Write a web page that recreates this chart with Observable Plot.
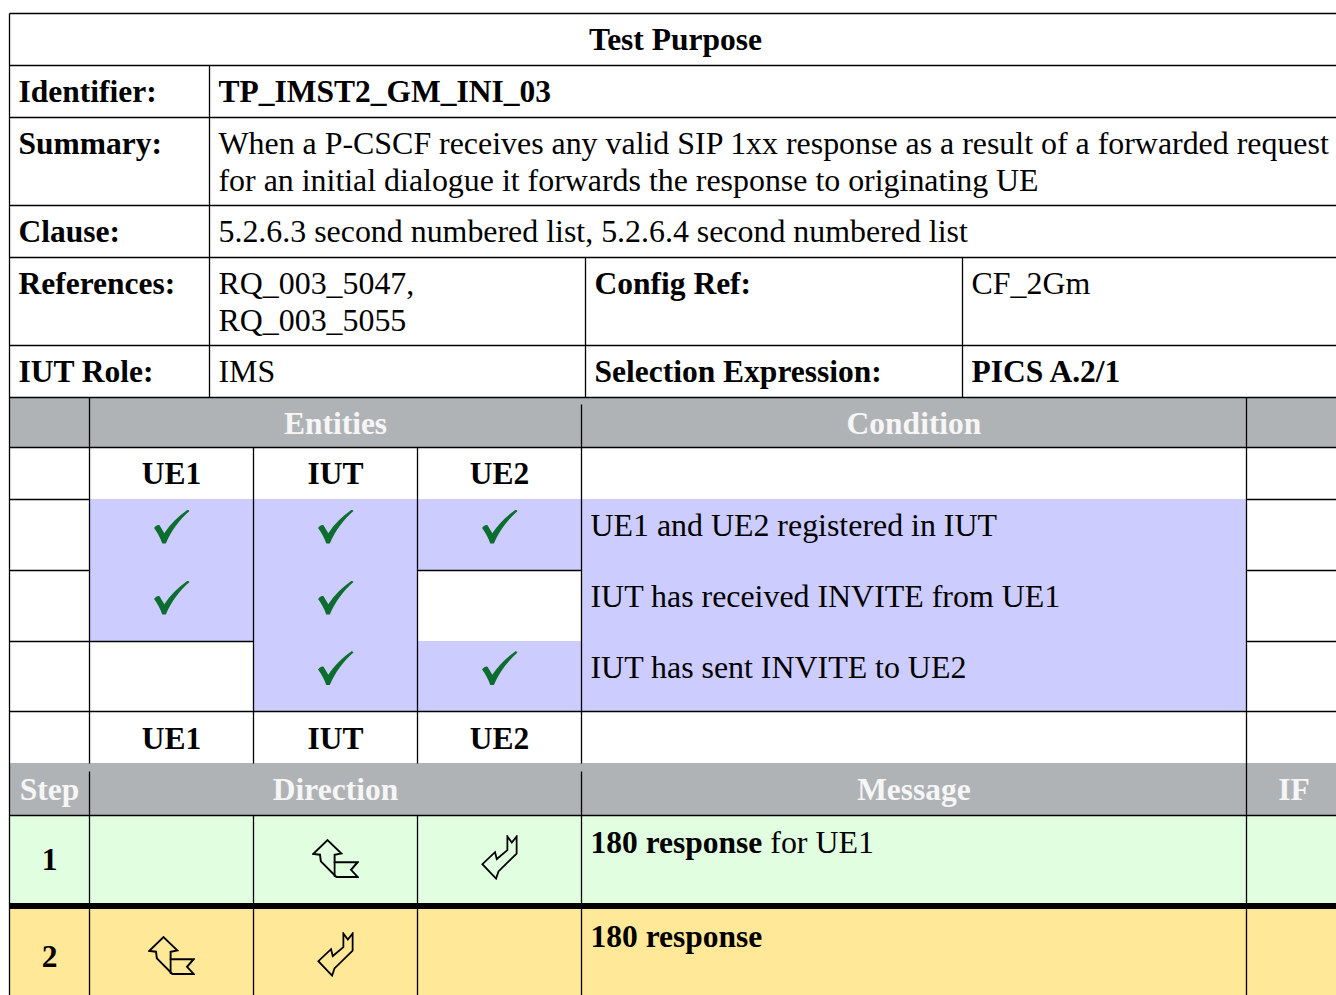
<!DOCTYPE html>
<html><head><meta charset="utf-8">
<script src="https://cdn.jsdelivr.net/npm/d3@7"></script>
<script src="https://cdn.jsdelivr.net/npm/@observablehq/plot@0.6"></script>
<style>html,body{margin:0;padding:0;background:#fff;overflow:hidden;}</style>
</head><body><div id="chart"></div>
<script>
// ---------------- data ----------------
const title = "Test Purpose";
const infoLabels = ["Identifier:", "Summary:", "Clause:", "References:", "IUT Role:"];
const infoValues = [
  ["TP_IMST2_GM_INI_03"],
  ["When a P-CSCF receives any valid SIP 1xx response as a result of a forwarded request",
   "for an initial dialogue it forwards the response to originating UE"],
  ["5.2.6.3 second numbered list, 5.2.6.4 second numbered list"],
  ["RQ_003_5047,", "RQ_003_5055"],
  ["IMS"]
];
const infoValueBold = [true, false, false, false, false];
const extraLabels = ["Config Ref:", "Selection Expression:"];
const extraValues = ["CF_2Gm", "PICS A.2/1"];
const extraValueBold = [false, true];
const entityHeader = ["", "Entities", "Condition", ""];
const entities = ["UE1", "IUT", "UE2"];
const conditions = ["UE1 and UE2 registered in IUT", "IUT has received INVITE from UE1", "IUT has sent INVITE to UE2"];
const conditionChecks = [[1, 1, 1], [1, 1, 0], [0, 1, 1]];
const stepHeader = ["Step", "Direction", "Message", "IF"];
const steps = ["1", "2"];
const stepArrows = [["", "up", "down"], ["up", "down", ""]];
const messageBold = ["180 response", "180 response"];
const messageRest = [" for UE1", ""];

// ---------------- layout & style ----------------
const W = 1336, H = 995;
const topCols = [9, 209, 585, 962, 1341];
const topRows = [13, 65, 117, 205, 257, 345, 397];
const cols = [9, 89, 253, 417, 581, 1246, 1341];
const rows = [397, 447, 499, 570, 641, 711, 763, 815, 903, 909, 1003];
const PAD = 9, BASE = 36.5, LINE = 36.5;
const FONT = "'Liberation Serif', 'Times New Roman', serif";
const FS_BOLD = 31.5, FS_REG = 31.9;
const GRAY = "#b0b3b6", LAV = "#ccccff", GREEN = "#e1fee1", YELLOW = "#ffe897", HEAD = "#f6f6f6";

const svgURI = s => "data:image/svg+xml;utf8," + encodeURIComponent(s);
const ICON = {
  up: {w: 47, h: 39.5, dy: -1, src: svgURI(`<svg xmlns="http://www.w3.org/2000/svg" viewBox="-3 -3 106 89"><path d="M32,0 L63,30 L48,33 L48,50 L100,50 L85,67 L100,83 L52,83 L17,48 L15,33 L0,31 Z" fill="none" stroke="#000" stroke-width="4.4" stroke-linejoin="miter"/><path d="M48,50 L48,83" fill="none" stroke="#000" stroke-width="4"/></svg>`)},
  down: {w: 37, h: 45, dy: -2, src: svgURI(`<svg xmlns="http://www.w3.org/2000/svg" viewBox="-4 -4 108 131"><path d="M73,0 L86,18 L100,0 L100,50 L47,102 L40,123 L0,81 L37,46 L42,66 L73,40 Z" fill="none" stroke="#000" stroke-width="5.2" stroke-linejoin="miter"/></svg>`)},
  check: {w: 37, h: 35, dy: -8, src: svgURI(`<svg xmlns="http://www.w3.org/2000/svg" viewBox="0 0 36 34"><path d="M1,18 C3,15.5 5,14.5 6.5,15.5 L11,23 C17,14 25,6 34,0 L35.5,1.5 C26,10 18,20 12.5,33 L9,33 C7,27 4,22 1,18 Z" fill="#0b6e2e"/></svg>`)}
};

// text measuring
const ctx = document.createElement("canvas").getContext("2d");
const measure = (t, bold) => { ctx.font = `${bold ? "bold " : ""}${bold ? FS_BOLD : FS_REG}px ${FONT}`; return ctx.measureText(t).width; };

// ---------------- build cells ----------------
const rects = [];
const R = (x1, x2, y1, y2, fill) => rects.push({x1, x2, y1, y2, fill});
R(cols[0], cols[6], rows[0], rows[1], GRAY);
R(cols[0], cols[6], rows[6], rows[7], GRAY);
R(cols[0], cols[6], rows[7], rows[8], GREEN);
R(cols[0], cols[6], rows[8], rows[9], "#000");
R(cols[0], cols[6], rows[9], rows[10], YELLOW);
conditionChecks.forEach((r, i) => {
  r.forEach((v, j) => { if (v) R(cols[1 + j], cols[2 + j], rows[2 + i], rows[3 + i], LAV); });
  R(cols[4], cols[5], rows[2 + i], rows[3 + i], LAV);
});

const segs = [];
const Hs = (y, x1, x2) => segs.push({x1, x2, y1: y, y2: y});
const Vs = (x, y1, y2) => segs.push({x1: x, x2: x, y1, y2});
topRows.forEach(y => Hs(y, topCols[0], topCols[4]));
Vs(topCols[0], topRows[0], rows[10]);
Vs(topCols[1], topRows[1], topRows[6]);
Vs(topCols[2], topRows[4], topRows[6]);
Vs(topCols[3], topRows[4], topRows[6]);
Hs(rows[1], cols[0], cols[6]);
Hs(rows[2], cols[0], cols[1]); Hs(rows[2], cols[5], cols[6]);
Hs(rows[3], cols[0], cols[1]); Hs(rows[3], cols[3], cols[4]); Hs(rows[3], cols[5], cols[6]);
Hs(rows[4], cols[0], cols[2]); Hs(rows[4], cols[5], cols[6]);
Hs(rows[5], cols[0], cols[6]);
Hs(rows[7], cols[0], cols[6]);
Vs(cols[1], rows[0], rows[6]); Vs(cols[1], rows[6] + 8, rows[10]);
Vs(cols[2], rows[1], rows[6]); Vs(cols[2], rows[7], rows[10]);
Vs(cols[3], rows[1], rows[6]); Vs(cols[3], rows[7], rows[10]);
Vs(cols[4], rows[0] + 7, rows[6]); Vs(cols[4], rows[6] + 8, rows[10]);
Vs(cols[5], rows[0], rows[10]);

const texts = [];
const T = (x, y, text, o = {}) => texts.push({x, y, text, bold: !!o.bold, fill: o.fill || "#000", anchor: o.anchor || "start", line: o.line || "bottom"});
const mid = (a, b) => (a + b) / 2;

T(mid(topCols[0], topCols[4]), topRows[0] + BASE, title, {bold: true, anchor: "middle"});
infoLabels.forEach((lab, i) => {
  const y = topRows[1 + i] + BASE;
  T(topCols[0] + PAD, y, lab, {bold: true});
  infoValues[i].forEach((v, k) => T(topCols[1] + PAD, y + k * LINE, v, {bold: infoValueBold[i]}));
});
extraLabels.forEach((lab, i) => {
  const y = topRows[4 + i] + BASE;
  T(topCols[2] + PAD, y, lab, {bold: true});
  T(topCols[3] + PAD, y, extraValues[i], {bold: extraValueBold[i]});
});
const hdrSpans = [[0, 1], [1, 4], [4, 5], [5, 6]];
entityHeader.forEach((h, i) => { if (h) T(mid(cols[hdrSpans[i][0]], cols[hdrSpans[i][1]]), rows[0] + BASE, h, {bold: true, anchor: "middle", fill: HEAD}); });
entities.forEach((e, j) => {
  T(mid(cols[1 + j], cols[2 + j]), rows[1] + BASE, e, {bold: true, anchor: "middle"});
  T(mid(cols[1 + j], cols[2 + j]), rows[5] + BASE + 1, e, {bold: true, anchor: "middle"});
});
const icons = [];
conditions.forEach((c, i) => {
  T(cols[4] + PAD, rows[2 + i] + 36, c);
  conditionChecks[i].forEach((v, j) => { if (v) icons.push({x: mid(cols[1 + j], cols[2 + j]), y: mid(rows[2 + i], rows[3 + i]) + ICON.check.dy, kind: "check"}); });
});
stepHeader.forEach((h, i) => T(mid(cols[hdrSpans[i][0]], cols[hdrSpans[i][1]]), rows[6] + BASE, h, {bold: true, anchor: "middle", fill: HEAD}));
const stepRows = [[rows[7], rows[8]], [rows[9], rows[10]]];
steps.forEach((s, i) => {
  const [y1, y2] = stepRows[i];
  T(mid(cols[0], cols[1]), mid(y1, y2), s, {bold: true, anchor: "middle", line: "middle"});
  T(cols[4] + PAD, y1 + 37, messageBold[i], {bold: true});
  if (messageRest[i]) T(cols[4] + PAD + measure(messageBold[i], true), y1 + 37, messageRest[i]);
  stepArrows[i].forEach((a, j) => { if (a) icons.push({x: mid(cols[1 + j], cols[2 + j]), y: mid(y1, y2) + ICON[a].dy, kind: a}); });
});

const groups = d3.groups(texts, d => `${d.bold}|${d.fill}|${d.anchor}|${d.line}`);
const textMarks = groups.map(([k, g]) => Plot.text(g, {
  x: "x", y: "y", text: "text",
  fontFamily: FONT, fontSize: g[0].bold ? FS_BOLD : FS_REG, fontWeight: g[0].bold ? "bold" : "normal",
  fill: g[0].fill, textAnchor: g[0].anchor, lineAnchor: g[0].line
}));
const iconMarks = d3.groups(icons, d => d.kind).map(([k, g]) => Plot.image(g, {
  x: "x", y: "y", src: () => ICON[k].src, width: ICON[k].w, height: ICON[k].h
}));

const chart = Plot.plot({
  width: W, height: H, margin: 0,
  x: {domain: [0, W], range: [0, W], axis: null},
  y: {domain: [0, H], range: [0, H], axis: null},
  color: {type: "identity"},
  style: {background: "#fff", fontFamily: FONT},
  marks: [
    Plot.rect(rects, {x1: "x1", x2: "x2", y1: "y1", y2: "y2", fill: "fill"}),
    Plot.link(segs, {x1: "x1", x2: "x2", y1: "y1", y2: "y2", stroke: "#000", strokeWidth: 1.3}),
    ...iconMarks,
    ...textMarks
  ]
});
document.getElementById("chart").appendChild(chart);
</script>
</body></html>
